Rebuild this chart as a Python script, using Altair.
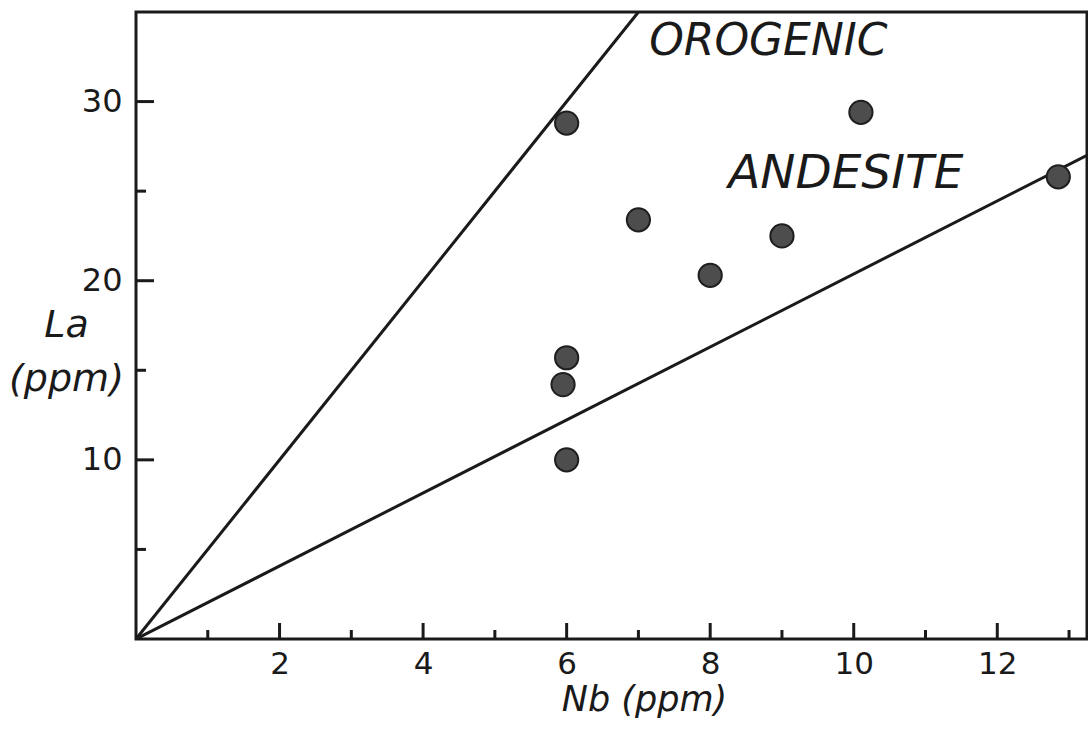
import altair as alt
import pandas as pd

# Sample points (Nb ppm, La ppm)
nb_vals = [6.0, 10.1, 12.85, 7.0, 9.0, 8.0, 6.0, 5.95, 6.0]
la_vals = [28.8, 29.4, 25.8, 23.4, 22.5, 20.3, 15.7, 14.2, 10.0]

# Boundary lines from origin
line_id = ["upper", "upper", "lower", "lower"]
line_nb = [0.0, 7.0, 0.0, 13.25]
line_la = [0.0, 35.0, 0.0, 27.0]

# Field labels
label_text = ["OROGENIC", "ANDESITE"]
label_nb = [7.15, 8.25]
label_la = [32.6, 25.2]

x_major = [2, 4, 6, 8, 10, 12]
x_minor = [1, 3, 5, 7, 9, 11, 13]
y_major = [10, 20, 30]
y_minor = [5, 15, 25]

W, H = 951, 627
XD = [0, 13.25]
YD = [0, 35]
FONT = "DejaVu Sans"
INK = "#1a1a1a"

pts = pd.DataFrame({"Nb": nb_vals, "La": la_vals})
lines = pd.DataFrame({"id": line_id, "Nb": line_nb, "La": line_la})
labels = pd.DataFrame({"t": label_text, "Nb": label_nb, "La": label_la})

xs = alt.Scale(domain=XD, nice=False, zero=False)
ys = alt.Scale(domain=YD, nice=False, zero=False)

xaxis = alt.Axis(values=x_major, format="d", ticks=False, domain=False, grid=False,
                 labelFont=FONT, labelFontSize=31, labelColor=INK,
                 labelPadding=10, title="Nb (ppm)", titleFont=FONT,
                 titleFontSize=35, titleFontStyle="italic", titleFontWeight="normal",
                 titleColor=INK, titleX=508, titleY=71, titleBaseline="alphabetic")
yaxis = alt.Axis(values=y_major, format="d", ticks=False, domain=False, grid=False,
                 labelFont=FONT, labelFontSize=32, labelColor=INK,
                 labelPadding=14, title=["La", "(ppm)"], titleFont=FONT,
                 titleFontSize=38, titleFontStyle="italic", titleFontWeight="normal",
                 titleColor=INK, titleAngle=0, titleX=-70, titleY=294,
                 titleAlign="center", titleBaseline="top", titleLineHeight=54)

base_lines = alt.Chart(lines).mark_line(color=INK, strokeWidth=3, clip=True).encode(
    x=alt.X("Nb:Q", scale=xs, axis=xaxis),
    y=alt.Y("La:Q", scale=ys, axis=yaxis),
    detail="id:N",
)

xmaj = alt.Chart(pd.DataFrame({"v": x_major})).mark_rule(color=INK, strokeWidth=3).encode(
    x=alt.X("v:Q", scale=xs), y=alt.value(H), y2=alt.value(H - 16))
xmin = alt.Chart(pd.DataFrame({"v": x_minor})).mark_rule(color=INK, strokeWidth=3, clip=True).encode(
    x=alt.X("v:Q", scale=xs), y=alt.value(H), y2=alt.value(H - 9))
ymaj = alt.Chart(pd.DataFrame({"v": y_major})).mark_rule(color=INK, strokeWidth=3).encode(
    y=alt.Y("v:Q", scale=ys), x=alt.value(0), x2=alt.value(18))
ymin = alt.Chart(pd.DataFrame({"v": y_minor})).mark_rule(color=INK, strokeWidth=3).encode(
    y=alt.Y("v:Q", scale=ys), x=alt.value(0), x2=alt.value(10))

points = alt.Chart(pts).mark_point(filled=True, shape="circle", size=540, fill="#4d4d4d",
                                   stroke="#1e1e1e", strokeWidth=2, opacity=1).encode(
    x=alt.X("Nb:Q", scale=xs), y=alt.Y("La:Q", scale=ys))

def label_layer(name, size):
    return alt.Chart(labels).transform_filter(alt.datum.t == name).mark_text(
        font=FONT, fontSize=size, fontStyle="italic", align="left",
        baseline="alphabetic", color=INK).encode(
        x=alt.X("Nb:Q", scale=xs), y=alt.Y("La:Q", scale=ys), text="t:N")

t1 = label_layer(label_text[0], 44)
t2 = label_layer(label_text[1], 47)

chart = alt.layer(base_lines, xmaj, xmin, ymaj, ymin, points, t1, t2).properties(
    width=W, height=H,
    autosize=alt.AutoSizeParams(type="none"),
    padding={"left": 136, "top": 12, "right": 1, "bottom": 103},
    background="white",
).configure_view(stroke=INK, strokeWidth=3)

chart.save("out.html", embed_options={"renderer": "svg", "actions": False})
